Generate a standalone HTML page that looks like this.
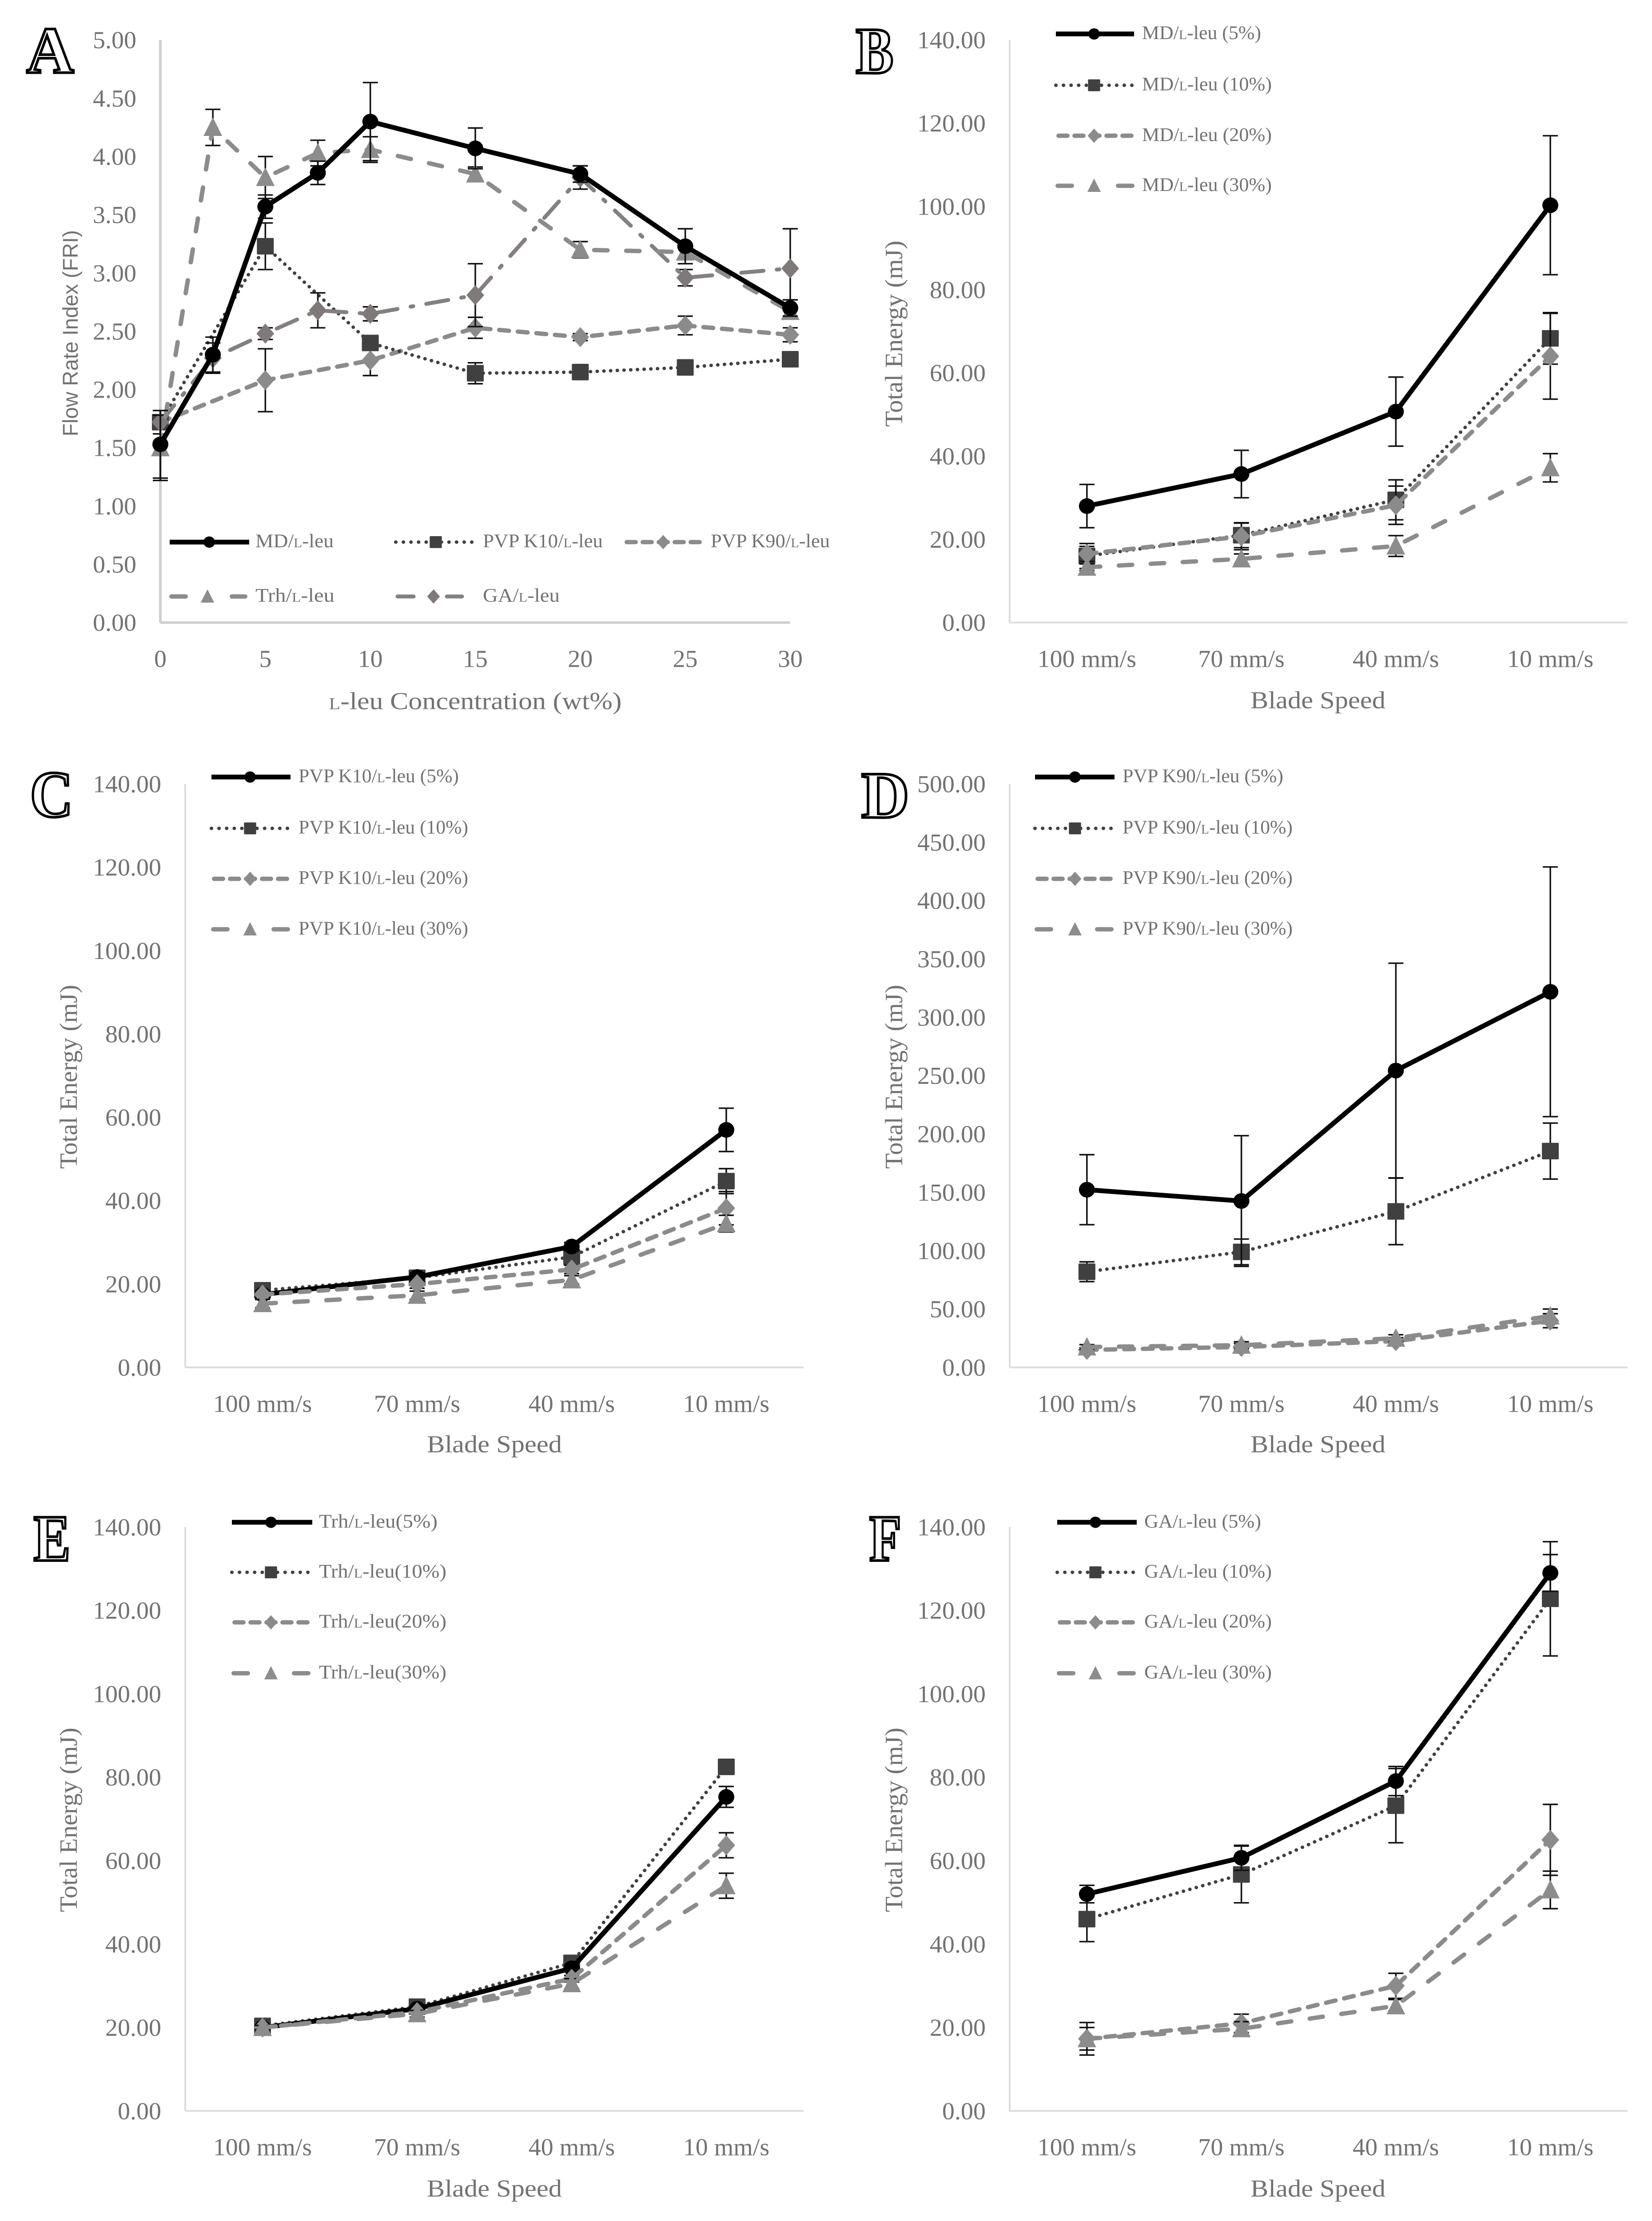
<!DOCTYPE html>
<html lang="en">
<head>
<meta charset="utf-8">
<meta name="viewport" content="width=3719">
<title>Flow rate index and total energy of L-leucine formulations</title>
<style>
html,body{margin:0;padding:0;background:#fff;width:100%;height:100%;overflow:hidden;}
svg{display:block;position:fixed;left:0;top:0;width:100vw;height:100vh;}
text{font-family:"Liberation Serif",serif;fill:#727272;}
.tick{font-size:56px;}
.ttl{font-size:56px;}
.sans{font-family:"Liberation Sans",sans-serif;font-size:48px;}
.lg{font-size:44px;}
.letter{font-size:152px;font-weight:bold;fill:#fff;stroke:#000;stroke-width:6px;text-anchor:middle;}
</style>
</head>
<body>
<svg id="figure" xmlns="http://www.w3.org/2000/svg" viewBox="0 0 3719 5105" preserveAspectRatio="none">
<rect width="3719" height="5105" fill="#fff"/>

<g id="panel-a">
<text class="letter" x="113" y="167" textLength="107" lengthAdjust="spacingAndGlyphs">A</text>
<text class="sans" transform="translate(175 766) rotate(-90)" text-anchor="middle" textLength="474" lengthAdjust="spacingAndGlyphs">Flow Rate Index (FRI)</text>
<text class="ttl" x="1070" y="1630" text-anchor="middle" textLength="659" lengthAdjust="spacingAndGlyphs"><tspan font-size="38">L</tspan>-leu  Concentration (wt%)</text>
<text class="lg" x="575" y="1258" textLength="176" lengthAdjust="spacingAndGlyphs">MD/<tspan font-size="30">L</tspan>-leu</text>
<text class="lg" x="1087" y="1258" textLength="270" lengthAdjust="spacingAndGlyphs">PVP K10/<tspan font-size="30">L</tspan>-leu</text>
<text class="lg" x="1600" y="1258" textLength="268" lengthAdjust="spacingAndGlyphs">PVP K90/<tspan font-size="30">L</tspan>-leu</text>
<text class="lg" x="575" y="1383" textLength="178" lengthAdjust="spacingAndGlyphs">Trh/<tspan font-size="30">L</tspan>-leu</text>
<text class="lg" x="1087" y="1383" textLength="173" lengthAdjust="spacingAndGlyphs">GA/<tspan font-size="30">L</tspan>-leu</text>
</g>

<g id="panel-b">
<text class="letter" x="1969" y="168" textLength="85" lengthAdjust="spacingAndGlyphs">B</text>
<text class="ttl" transform="translate(2031 767) rotate(-90)" text-anchor="middle" textLength="428" lengthAdjust="spacingAndGlyphs">Total Energy (mJ)</text>
<text class="ttl" x="2967" y="1628" text-anchor="middle" textLength="304" lengthAdjust="spacingAndGlyphs">Blade Speed</text>
<text class="lg" x="2571" y="90" textLength="268" lengthAdjust="spacingAndGlyphs">MD/<tspan font-size="30">L</tspan>-leu (5%)</text>
<text class="lg" x="2571" y="208" textLength="292" lengthAdjust="spacingAndGlyphs">MD/<tspan font-size="30">L</tspan>-leu (10%)</text>
<text class="lg" x="2571" y="324" textLength="292" lengthAdjust="spacingAndGlyphs">MD/<tspan font-size="30">L</tspan>-leu (20%)</text>
<text class="lg" x="2571" y="439" textLength="292" lengthAdjust="spacingAndGlyphs">MD/<tspan font-size="30">L</tspan>-leu (30%)</text>
</g>

<g id="panel-c">
<text class="letter" x="116" y="1877" textLength="97" lengthAdjust="spacingAndGlyphs">C</text>
<text class="ttl" transform="translate(173 2475) rotate(-90)" text-anchor="middle" textLength="423" lengthAdjust="spacingAndGlyphs">Total Energy (mJ)</text>
<text class="ttl" x="1113" y="3338" text-anchor="middle" textLength="304" lengthAdjust="spacingAndGlyphs">Blade Speed</text>
<text class="lg" x="672" y="1798" textLength="361" lengthAdjust="spacingAndGlyphs">PVP K10/<tspan font-size="30">L</tspan>-leu (5%)</text>
<text class="lg" x="672" y="1916" textLength="382" lengthAdjust="spacingAndGlyphs">PVP K10/<tspan font-size="30">L</tspan>-leu (10%)</text>
<text class="lg" x="672" y="2032" textLength="382" lengthAdjust="spacingAndGlyphs">PVP K10/<tspan font-size="30">L</tspan>-leu (20%)</text>
<text class="lg" x="672" y="2148" textLength="382" lengthAdjust="spacingAndGlyphs">PVP K10/<tspan font-size="30">L</tspan>-leu (30%)</text>
</g>

<g id="panel-d">
<text class="letter" x="1993" y="1879" textLength="108" lengthAdjust="spacingAndGlyphs">D</text>
<text class="ttl" transform="translate(2031 2475) rotate(-90)" text-anchor="middle" textLength="423" lengthAdjust="spacingAndGlyphs">Total Energy (mJ)</text>
<text class="ttl" x="2967" y="3338" text-anchor="middle" textLength="304" lengthAdjust="spacingAndGlyphs">Blade Speed</text>
<text class="lg" x="2527" y="1798" textLength="362" lengthAdjust="spacingAndGlyphs">PVP K90/<tspan font-size="30">L</tspan>-leu (5%)</text>
<text class="lg" x="2527" y="1916" textLength="383" lengthAdjust="spacingAndGlyphs">PVP K90/<tspan font-size="30">L</tspan>-leu (10%)</text>
<text class="lg" x="2527" y="2032" textLength="383" lengthAdjust="spacingAndGlyphs">PVP K90/<tspan font-size="30">L</tspan>-leu (20%)</text>
<text class="lg" x="2527" y="2148" textLength="383" lengthAdjust="spacingAndGlyphs">PVP K90/<tspan font-size="30">L</tspan>-leu (30%)</text>
</g>

<g id="panel-e">
<text class="letter" x="117" y="3587" textLength="83" lengthAdjust="spacingAndGlyphs">E</text>
<text class="ttl" transform="translate(173 4183) rotate(-90)" text-anchor="middle" textLength="424" lengthAdjust="spacingAndGlyphs">Total Energy (mJ)</text>
<text class="ttl" x="1113" y="5049" text-anchor="middle" textLength="304" lengthAdjust="spacingAndGlyphs">Blade Speed</text>
<text class="lg" x="718" y="3511" textLength="267" lengthAdjust="spacingAndGlyphs">Trh/<tspan font-size="30">L</tspan>-leu(5%)</text>
<text class="lg" x="718" y="3626" textLength="287" lengthAdjust="spacingAndGlyphs">Trh/<tspan font-size="30">L</tspan>-leu(10%)</text>
<text class="lg" x="718" y="3741" textLength="287" lengthAdjust="spacingAndGlyphs">Trh/<tspan font-size="30">L</tspan>-leu(20%)</text>
<text class="lg" x="718" y="3858" textLength="287" lengthAdjust="spacingAndGlyphs">Trh/<tspan font-size="30">L</tspan>-leu(30%)</text>
</g>

<g id="panel-f">
<text class="letter" x="1993" y="3587" textLength="72" lengthAdjust="spacingAndGlyphs">F</text>
<text class="ttl" transform="translate(2031 4183) rotate(-90)" text-anchor="middle" textLength="424" lengthAdjust="spacingAndGlyphs">Total Energy (mJ)</text>
<text class="ttl" x="2967" y="5049" text-anchor="middle" textLength="304" lengthAdjust="spacingAndGlyphs">Blade Speed</text>
<text class="lg" x="2576" y="3511" textLength="263" lengthAdjust="spacingAndGlyphs">GA/<tspan font-size="30">L</tspan>-leu (5%)</text>
<text class="lg" x="2576" y="3626" textLength="287" lengthAdjust="spacingAndGlyphs">GA/<tspan font-size="30">L</tspan>-leu (10%)</text>
<text class="lg" x="2576" y="3741" textLength="287" lengthAdjust="spacingAndGlyphs">GA/<tspan font-size="30">L</tspan>-leu (20%)</text>
<text class="lg" x="2576" y="3858" textLength="287" lengthAdjust="spacingAndGlyphs">GA/<tspan font-size="30">L</tspan>-leu (30%)</text>
</g>
</svg>

<script>
// ---- shared categories and tick labels ----
const speedCategories = ['100 mm/s', '70 mm/s', '40 mm/s', '10 mm/s'];
const speedPositions = [0, 1, 2, 3];
const energyTicks = ['0.00', '20.00', '40.00', '60.00', '80.00', '100.00', '120.00', '140.00'];
const energyTicksD = ['0.00', '50.00', '100.00', '150.00', '200.00', '250.00', '300.00', '350.00', '400.00', '450.00', '500.00'];
const friTicks = ['0.00', '0.50', '1.00', '1.50', '2.00', '2.50', '3.00', '3.50', '4.00', '4.50', '5.00'];
const concTicks = ['0', '5', '10', '15', '20', '25', '30'];

// ---- panel A: flow rate index ----
const aConcFull = [0, 2.5, 5, 7.5, 10, 15, 20, 25, 30];
const aConcSparse = [0, 5, 10, 15, 20, 25, 30];
const aMd = [1.53, 2.30, 3.57, 3.86, 4.30, 4.07, 3.85, 3.23, 2.70];
const aMdErr = [0.29, 0.15, 0.10, 0.10, 0.335, 0.175, 0.07, 0.15, 0.07];
const aK10 = [1.72, 3.23, 2.40, 2.14, 2.15, 2.19, 2.26];
const aK10Err = [0.10, 0.20, 0.05, 0.09, 0.03, 0.03, 0.03];
const aK90 = [1.72, 2.08, 2.25, 2.53, 2.45, 2.55, 2.47];
const aK90Err = [0.03, 0.27, 0.13, 0.09, 0.03, 0.08, 0.06];
const aTrh = [1.50, 4.25, 3.82, 4.03, 4.06, 3.85, 3.20, 3.18, 2.67];
const aTrhErr = [0.28, 0.155, 0.18, 0.11, 0.11, 0.06, 0.07, 0.05, 0.05];
const aGa = [1.72, 2.27, 2.48, 2.68, 2.65, 2.81, 3.82, 2.96, 3.04];
const aGaErr = [0.10, 0.13, 0.05, 0.15, 0.06, 0.27, 0.10, 0.07, 0.34];

// ---- panel B: MD ----
const b5 = [28, 35.7, 50.7, 100.3];
const b5Err = [5.2, 5.7, 8.3, 16.7];
const b10 = [16, 21, 29.5, 68.3];
const b10Err = [3, 3, 4.8, 6.2];
const b20 = [16.5, 20.7, 28.2, 64];
const b20Err = [1.8, 3.2, 4.6, 10.3];
const b30 = [13.3, 15.3, 18.4, 37.2];
const b30Err = [0.8, 1.2, 2.5, 3.4];

// ---- panel C: PVP K10 ----
const c5 = [17.5, 21.7, 29, 57];
const c5Err = [1, 1, 1, 5.2];
const c10 = [18.5, 21.5, 26.5, 44.7];
const c10Err = [1, 1, 1.2, 3];
const c20 = [17.5, 20, 23.5, 38.2];
const c20Err = [1, 1, 1, 4];
const c30 = [15.3, 17.3, 21, 34.5];
const c30Err = [1, 1, 1, 2];

// ---- panel D: PVP K90 ----
const d5 = [152.3, 142.6, 254.4, 321.9];
const d5Err = [30, 56, 92, 107];
const d10 = [82, 99, 133.7, 185.4];
const d10Err = [8.5, 11, 28.5, 24];
const d20 = [15, 17.5, 22.5, 40];
const d20Err = [2, 3, 3, 6];
const d30 = [17.5, 19, 25, 44];
const d30Err = [2, 3, 3, 6];

// ---- panel E: Trh ----
const e5 = [20, 24.5, 34.2, 75.3];
const e5Err = [0.5, 0.5, 0.5, 2.5];
const e10 = [20.4, 25, 35.5, 82.5];
const e10Err = [0.5, 0.5, 0.5, 0.5];
const e20 = [20, 23.7, 31.7, 63.7];
const e20Err = [0.5, 0.5, 0.8, 3];
const e30 = [20, 23.3, 30.5, 54];
const e30Err = [0.5, 0.8, 1.2, 3];

// ---- panel F: GA ----
const f5 = [52, 60.7, 79.1, 129];
const f5Err = [2.1, 3, 3.5, 4.4];
const f10 = [46, 56.7, 73.2, 122.8];
const f10Err = [5.4, 6.8, 8.9, 13.7];
const f20 = [17.3, 21, 30, 65];
const f20Err = [3.9, 2.2, 3, 8.5];
const f30 = [17.3, 19.7, 25.2, 53];
const f30Err = [2.7, 1.7, 1.5, 4.5];

// ---- line and marker styles ----
const solidStyle = {color: '#000', mark: '#000', width: 11, dash: null, marker: 'circle', legendDash: null, legendOffset: 0};
const dottedStyle = {color: '#404040', mark: '#404040', width: 8, dash: '0.1 15', marker: 'square', legendDash: '0.1 17', legendOffset: 0};
const sysDashStyle = {color: '#8b8b8b', mark: '#8b8b8b', width: 10, dash: '22 20', marker: 'diamond', legendDash: '20 16', legendOffset: 30};
const dashStyle = {color: '#8c8c8c', mark: '#8c8c8c', width: 10, dash: '30 42', marker: 'triangle', legendDash: '32 104', legendOffset: 132};
const dashDotStyle = {color: '#858080', mark: '#7f7979', width: 9, dash: '50 30 6 30', marker: 'diamond', legendDash: '36 75', legendOffset: 107};

const NS = 'http://www.w3.org/2000/svg';
function make(parent, tag, attrs) {
  const el = document.createElementNS(NS, tag);
  for (const k in attrs) el.setAttribute(k, attrs[k]);
  parent.appendChild(el);
  return el;
}

function drawMarker(parent, kind, x, y, scale, color) {
  let el;
  if (kind === 'circle') {
    el = make(parent, 'circle', {cx: x, cy: y, r: 18 * scale, fill: color});
  } else if (kind === 'square') {
    const s = 19 * scale;
    el = make(parent, 'rect', {x: x - s, y: y - s, width: 2 * s, height: 2 * s, rx: 2, fill: color});
  } else if (kind === 'diamond') {
    const w = 20 * scale, h = 23 * scale;
    el = make(parent, 'polygon', {points: [x, y - h, x + w, y, x, y + h, x - w, y].join(' ') , fill: color});
  } else {
    const w = 21 * scale, h = 23 * scale;
    el = make(parent, 'polygon', {points: [x, y - h, x + w, y + h * 0.85, x - w, y + h * 0.85].join(' '), fill: color});
  }
  return el;
}

function drawChart(cfg) {
  const g = document.getElementById(cfg.id);
  const sx = v => cfg.left + (v - cfg.xMin) / (cfg.xMax - cfg.xMin) * (cfg.right - cfg.left);
  const sy = v => cfg.bottom - (v - cfg.yMin) / (cfg.yMax - cfg.yMin) * (cfg.bottom - cfg.top);

  const yAxis = make(g, 'line', {x1: cfg.left, y1: cfg.top, x2: cfg.left, y2: cfg.bottom, stroke: cfg.axisColor, 'stroke-width': cfg.axisWidth});
  
  
  const xAxis = make(g, 'line', {x1: cfg.left, y1: cfg.bottom, x2: cfg.right, y2: cfg.bottom, stroke: cfg.axisColor, 'stroke-width': cfg.axisWidth});
  
  

  cfg.yTicks.forEach(label => {
    const t = make(g, 'text', {x: cfg.left - 54, y: sy(Number(label)) + 19, 'text-anchor': 'end', class: 'tick'});
    t.textContent = label;
    
    
  });
  cfg.xTicks.forEach((label, i) => {
    const pos = cfg.xTickPos ? cfg.xTickPos[i] : Number(label);
    const t = make(g, 'text', {x: sx(pos), y: cfg.bottom + 102, 'text-anchor': 'middle', class: 'tick'});
    t.textContent = label;
    
    
  });

  cfg.series.forEach(s => {
    const sg = make(g, 'g', {});
    
    
    s.x.forEach((xv, i) => {
      const px = sx(xv), hi = sy(s.y[i] + s.err[i]), lo = sy(s.y[i] - s.err[i]);
      const bar = make(sg, 'path', {d: 'M' + px + ' ' + hi + 'V' + lo + 'M' + (px - 17) + ' ' + hi + 'H' + (px + 17) + 'M' + (px - 17) + ' ' + lo + 'H' + (px + 17), stroke: '#111', 'stroke-width': 3.5, fill: 'none'});
      
      
    });
    const pts = s.x.map((xv, i) => sx(xv) + ',' + sy(s.y[i])).join(' ');
    const lineAttrs = {points: pts, fill: 'none', stroke: s.style.color, 'stroke-width': s.style.width, 'stroke-linejoin': 'round', 'stroke-linecap': s.style.dash ? 'round' : 'butt'};
    if (s.style.dash) lineAttrs['stroke-dasharray'] = s.style.dash;
    const line = make(sg, 'polyline', lineAttrs);
    
    
    s.x.forEach((xv, i) => {
      const m = drawMarker(sg, s.style.marker, sx(xv), sy(s.y[i]), 1, s.style.mark);
      
      
    });
  });

  cfg.legend.forEach(k => {
    const attrs = {x1: k.x1, x2: k.x2, y1: k.y, y2: k.y, stroke: k.style.color, 'stroke-width': k.style.width, 'stroke-linecap': k.style.legendDash ? 'round' : 'butt'};
    if (k.style.legendDash) {
      attrs['stroke-dasharray'] = k.style.legendDash;
      attrs['stroke-dashoffset'] = k.style.legendOffset;
    }
    const ln = make(g, 'line', attrs);
    
    
    const mk = drawMarker(g, k.style.marker, k.mx, k.y, 0.72, k.style.mark);
    
    
  });
}

function fourSeries(v5, e5v, v10, e10v, v20, e20v, v30, e30v) {
  return [
    {name: '10-percent', x: speedPositions, y: v10, err: e10v, style: dottedStyle},
    {name: '5-percent', x: speedPositions, y: v5, err: e5v, style: solidStyle},
    {name: '20-percent', x: speedPositions, y: v20, err: e20v, style: sysDashStyle},
    {name: '30-percent', x: speedPositions, y: v30, err: e30v, style: dashStyle}
  ];
}
function fourLegend(x1, x2, mx, rows) {
  return [
    {x1: x1, x2: x2, mx: mx, y: rows[0], style: solidStyle},
    {x1: x1, x2: x2, mx: mx, y: rows[1], style: dottedStyle},
    {x1: x1, x2: x2, mx: mx, y: rows[2], style: sysDashStyle},
    {x1: x1, x2: x2, mx: mx, y: rows[3], style: dashStyle}
  ];
}
function speedChart(id, left, right, top, bottom, yMax, yTicks, series, legend) {
  drawChart({id: id, left: left, right: right, top: top, bottom: bottom, xMin: -0.5, xMax: 3.5, yMin: 0, yMax: yMax,
    yTicks: yTicks, xTicks: speedCategories, xTickPos: speedPositions, series: series, legend: legend, axisColor: '#dcdcdc', axisWidth: 4});
}

drawChart({
  id: 'panel-a', left: 361, right: 1779, top: 92, bottom: 1431, xMin: 0, xMax: 30, yMin: 0, yMax: 5,
  yTicks: friTicks, xTicks: concTicks, axisColor: '#cfcfcf', axisWidth: 6,
  series: [
    {name: 'pvp-k90', x: aConcSparse, y: aK90, err: aK90Err, style: sysDashStyle},
    {name: 'pvp-k10', x: aConcSparse, y: aK10, err: aK10Err, style: dottedStyle},
    {name: 'ga', x: aConcFull, y: aGa, err: aGaErr, style: dashDotStyle},
    {name: 'trh', x: aConcFull, y: aTrh, err: aTrhErr, style: dashStyle},
    {name: 'md', x: aConcFull, y: aMd, err: aMdErr, style: solidStyle}
  ],
  legend: [
    {x1: 382, x2: 561, mx: 471, y: 1246, style: solidStyle},
    {x1: 891, x2: 1066, mx: 981, y: 1246, style: dottedStyle},
    {x1: 1405, x2: 1585, mx: 1493, y: 1246, style: sysDashStyle},
    {x1: 382, x2: 552, mx: 467, y: 1371, style: dashStyle},
    {x1: 891, x2: 1040, mx: 976, y: 1371, style: dashDotStyle}
  ]
});

speedChart('panel-b', 2273, 3664, 92, 1431, 140, energyTicks,
  fourSeries(b5, b5Err, b10, b10Err, b20, b20Err, b30, b30Err),
  fourLegend(2377, 2553, 2463, [78, 196, 312, 427]));
speedChart('panel-c', 417, 1809, 1802, 3143, 140, energyTicks,
  fourSeries(c5, c5Err, c10, c10Err, c20, c20Err, c30, c30Err),
  fourLegend(476, 654, 563, [1786, 1904, 2020, 2136]));
speedChart('panel-d', 2273, 3664, 1802, 3143, 500, energyTicksD,
  fourSeries(d5, d5Err, d10, d10Err, d20, d20Err, d30, d30Err),
  fourLegend(2330, 2509, 2420, [1786, 1904, 2020, 2136]));
speedChart('panel-e', 417, 1809, 3510, 4852, 140, energyTicks,
  fourSeries(e5, e5Err, e10, e10Err, e20, e20Err, e30, e30Err),
  fourLegend(522, 703, 610, [3499, 3614, 3729, 3846]));
speedChart('panel-f', 2273, 3664, 3510, 4852, 140, energyTicks,
  fourSeries(f5, f5Err, f10, f10Err, f20, f20Err, f30, f30Err),
  fourLegend(2380, 2559, 2466, [3499, 3614, 3729, 3846]));
</script>
</body>
</html>
